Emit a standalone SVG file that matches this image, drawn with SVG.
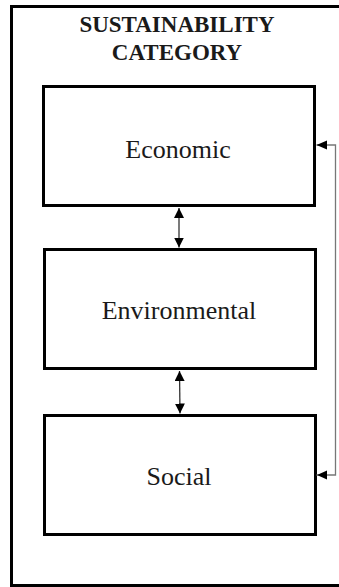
<svg xmlns="http://www.w3.org/2000/svg" width="339" height="587" viewBox="0 0 339 587">
<style>
.box{fill:#fff;stroke:#000;stroke-width:3}
.lbl{font-family:"Liberation Serif","Times New Roman",serif;font-size:26px;fill:#1a1a1a;text-anchor:middle}
.ttl{font-family:"Liberation Serif","Times New Roman",serif;font-size:23px;font-weight:bold;fill:#1a1a1a;text-anchor:middle}
.con{fill:none;stroke:#333;stroke-width:1.3}
.side{fill:none;stroke:#777;stroke-width:1.3}
</style>
<defs>
<marker id="ah" viewBox="0 0 10 10" refX="10" refY="5" markerWidth="10" markerHeight="10" markerUnits="userSpaceOnUse" orient="auto-start-reverse">
<path d="M0,0 L10,5 L0,10 z" fill="#000"/>
</marker>
</defs>
<rect width="339" height="587" fill="#fff"/>
<g id="frame">
<path d="M345,6.5 H11.5 V585.5 H345" fill="none" stroke="#000" stroke-width="3"/>
<text class="ttl" x="177" y="32">SUSTAINABILITY</text>
<text class="ttl" x="177" y="60">CATEGORY</text>
</g>
<g id="economic">
<rect class="box" x="43.5" y="86.5" width="271" height="119"/>
<text class="lbl" x="178" y="158">Economic</text>
</g>
<g id="environmental">
<rect class="box" x="44.5" y="249.5" width="271" height="119"/>
<text class="lbl" x="179" y="319">Environmental</text>
</g>
<g id="social">
<rect class="box" x="44.5" y="415.5" width="271" height="119"/>
<text class="lbl" x="179" y="485">Social</text>
</g>
<g id="connectors">
<line class="con" x1="179" y1="208" x2="179" y2="247.5" marker-start="url(#ah)" marker-end="url(#ah)"/>
<line class="con" x1="179.5" y1="371" x2="180" y2="413.5" marker-start="url(#ah)" marker-end="url(#ah)"/>
<path class="side" d="M316.5,145 H335.5 V475 H316.5"/>
<path d="M316.5,145 L327,140.5 L327,149.5 z" fill="#000"/>
<path d="M317,475 L327,470.5 L327,479.5 z" fill="#000"/>
</g>
</svg>
